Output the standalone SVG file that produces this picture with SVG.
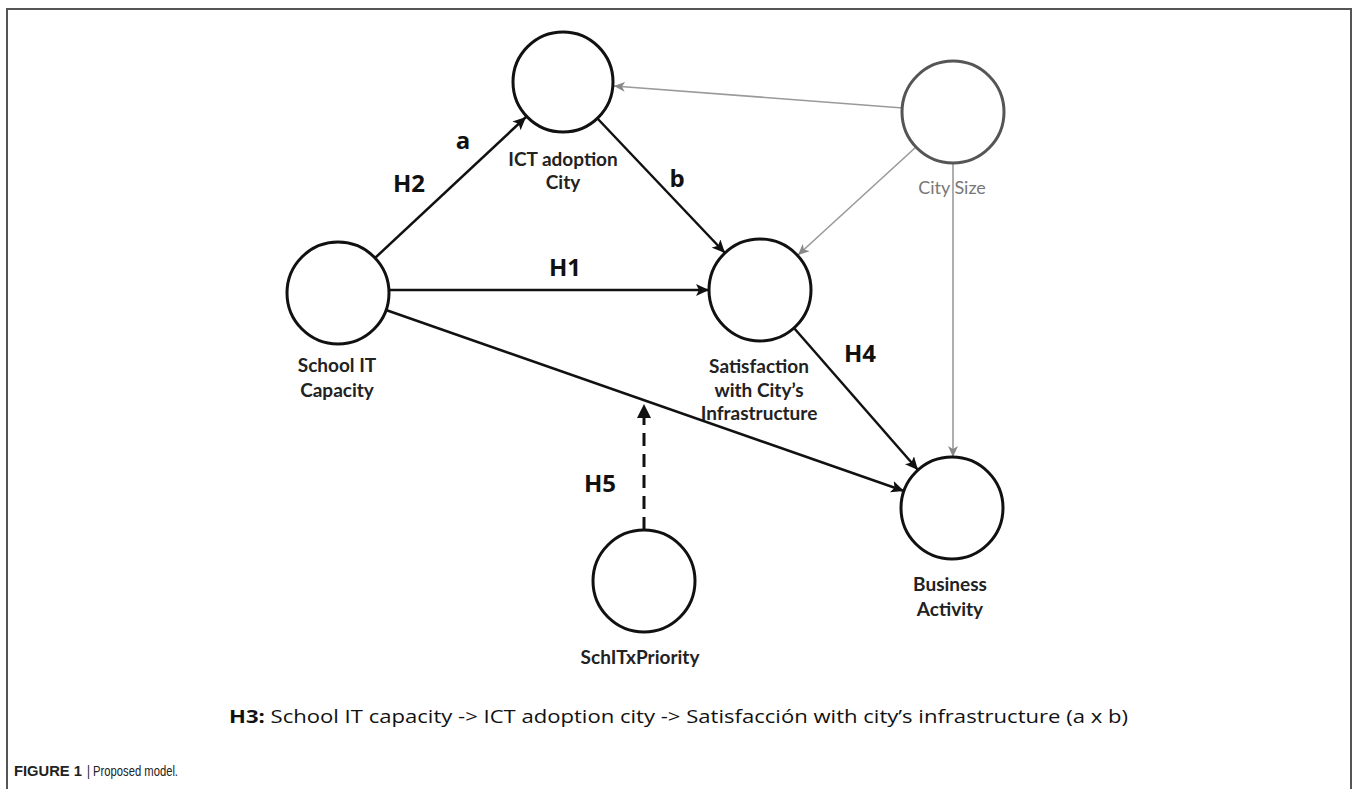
<svg xmlns="http://www.w3.org/2000/svg" width="1358" height="789" viewBox="0 0 1358 789">
<style>
.node{fill:#fff;stroke:#111;stroke-width:3}
.gnode{fill:#fff;stroke:#555;stroke-width:3}
.lbl{font-family:Lato,"Open Sans",sans-serif;font-weight:bold;font-size:19px;fill:#222;text-anchor:middle}
.hl{font-family:"Open Sans",sans-serif;font-weight:bold;font-size:24px;fill:#111;text-anchor:middle}
.blk{stroke:#111;stroke-width:2.5;fill:none}
.gry{stroke:#9a9a9a;stroke-width:1.6;fill:none}
.cap{font-family:"Liberation Sans",sans-serif;font-size:15px;fill:#222}
</style>
<defs>
<marker id="ab" markerUnits="userSpaceOnUse" markerWidth="14" markerHeight="12" refX="13" refY="6" orient="auto">
<path d="M0,0 L13,6 L0,12 L3,6 z" fill="#111"/>
</marker>
<marker id="ag" markerUnits="userSpaceOnUse" markerWidth="12" markerHeight="10" refX="11" refY="5" orient="auto">
<path d="M0,0 L11,5 L0,10 L3,5 z" fill="#888"/>
</marker>
</defs>
<rect width="1358" height="789" fill="#fff"/>
<path d="M7,789 L7,9 L1351,9 L1351,789" fill="none" stroke="#555" stroke-width="2"/>
<g id="connectors">
<line class="blk" x1="375" y1="258" x2="526" y2="117" marker-end="url(#ab)"/>
<line class="blk" x1="597" y1="118" x2="725" y2="253" marker-end="url(#ab)"/>
<line class="blk" x1="389" y1="290" x2="709" y2="290" marker-end="url(#ab)"/>
<line class="blk" x1="386" y1="310" x2="904" y2="491" marker-end="url(#ab)"/>
<line class="blk" x1="794" y1="328" x2="918" y2="470" marker-end="url(#ab)"/>
<line class="gry" x1="903" y1="108" x2="614" y2="86" marker-end="url(#ag)"/>
<line class="gry" x1="916" y1="147" x2="798" y2="255" marker-end="url(#ag)"/>
<line class="gry" x1="953" y1="163" x2="953" y2="457" marker-end="url(#ag)"/>
<line stroke="#111" stroke-width="3" stroke-dasharray="13,8" x1="644" y1="530" x2="644" y2="417"/>
<path d="M637,418 L644,404 L651,418 z" fill="#111"/>
<text class="hl" x="409" y="192">H2</text>
<text class="hl" x="463" y="149" font-size="23">a</text>
<text class="hl" x="677" y="187" font-size="23">b</text>
<text class="hl" x="565" y="276">H1</text>
<text class="hl" x="860" y="362">H4</text>
<text class="hl" x="600" y="492">H5</text>
</g>
<g id="ict">
<circle class="node" cx="563" cy="82" r="50"/>
<text class="lbl" x="563" y="166">ICT adoption</text>
<text class="lbl" x="563" y="189">City</text>
</g>
<g id="citysize">
<circle class="gnode" cx="953" cy="112" r="51"/>
<text x="952" y="194" font-family="Lato,'Open Sans',sans-serif" font-size="18" fill="#777" text-anchor="middle">City Size</text>
</g>
<g id="school">
<circle class="node" cx="338" cy="293" r="51"/>
<text class="lbl" x="337" y="372">School IT</text>
<text class="lbl" x="337" y="397">Capacity</text>
</g>
<g id="satisfaction">
<circle class="node" cx="760" cy="290" r="51"/>
<text class="lbl" x="759" y="373">Satisfaction</text>
<text class="lbl" x="759" y="397">with City’s</text>
<text class="lbl" x="759" y="420">Infrastructure</text>
</g>
<g id="business">
<circle class="node" cx="952" cy="508" r="51"/>
<text class="lbl" x="950" y="591">Business</text>
<text class="lbl" x="950" y="616">Activity</text>
</g>
<g id="schitx">
<circle class="node" cx="644" cy="581" r="51" stroke-width="4"/>
<text class="lbl" x="640" y="664">SchITxPriority</text>
</g>
<text x="229" y="723" font-family="'Open Sans',sans-serif" font-size="18.5" fill="#111" textLength="899" lengthAdjust="spacingAndGlyphs"><tspan font-weight="bold">H3:</tspan> School IT capacity -&gt; ICT adoption city -&gt; Satisfacción with city’s infrastructure (a x b)</text>
<text class="cap" x="14" y="776" font-weight="bold" textLength="68" lengthAdjust="spacingAndGlyphs">FIGURE 1</text>
<text class="cap" x="87" y="776" textLength="91" lengthAdjust="spacingAndGlyphs">| Proposed model.</text>
</svg>
